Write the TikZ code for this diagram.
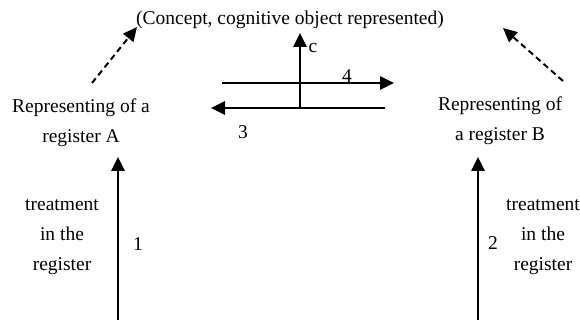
\documentclass[tikz,border=0pt]{standalone}
\usepackage{fontspec}
\setmainfont{Liberation Serif}
\usetikzlibrary{arrows.meta,positioning}

\begin{document}
\begin{tikzpicture}[x=1pt,y=-1pt,
  txt/.style={font=\fontsize{19.5}{30}\selectfont,align=center,inner sep=0pt,anchor=base},
  num/.style={font=\fontsize{19.5}{30}\selectfont,inner sep=0pt,anchor=base},
  arr/.style={-{Triangle[length=14pt,width=13pt]},line width=2.6pt},
  darr/.style={-{Triangle[length=14pt,width=13pt]},line width=2pt,dash pattern=on 6pt off 4pt}
]
  \useasboundingbox (0,0) rectangle (580,320);

  % Concept
  \node[txt] (concept) at (290,25) {(Concept, cognitive object represented)};

  % Register A
  \node[txt] (regA) at (81,143) {Representing of a\\register A};
  \node[txt] (treatA) at (62,270) {treatment\\in the\\register};
  \coordinate (baseA) at (118,320);
  \coordinate (topA) at (118,157);
  \coordinate (dashA) at (92,83);
  \coordinate (tipA) at (137,27);

  % Register B
  \node[txt] (regB) at (500,141) {Representing of\\a register B};
  \node[txt] (treatB) at (543,270) {treatment\\in the\\register};
  \coordinate (baseB) at (478,320);
  \coordinate (topB) at (478,157);
  \coordinate (dashB) at (563,81);
  \coordinate (tipB) at (503,28);

  % Conversion cross
  \coordinate (cBot) at (300,108);
  \coordinate (cTop) at (300,33);
  \coordinate (fwdL) at (222,83);
  \coordinate (fwdR) at (394,83);
  \coordinate (bwdR) at (385,108);
  \coordinate (bwdL) at (211,108);

  % Arrows
  \draw[arr] (baseA) -- (topA);
  \draw[arr] (baseB) -- (topB);
  \draw[darr] (dashA) -- (tipA);
  \draw[darr] (dashB) -- (tipB);
  \draw[arr] (cBot) -- (cTop);
  \draw[arr] (fwdL) -- (fwdR);
  \draw[arr] (bwdR) -- (bwdL);

  % Labels
  \node[num] (one) at (138,250) {1};
  \node[num] (two) at (493,249) {2};
  \node[num] (three) at (243,139) {3};
  \node[num] (four) at (347,83) {4};
  \node[num] (c) at (313,53) {c};
\end{tikzpicture}
\end{document}
